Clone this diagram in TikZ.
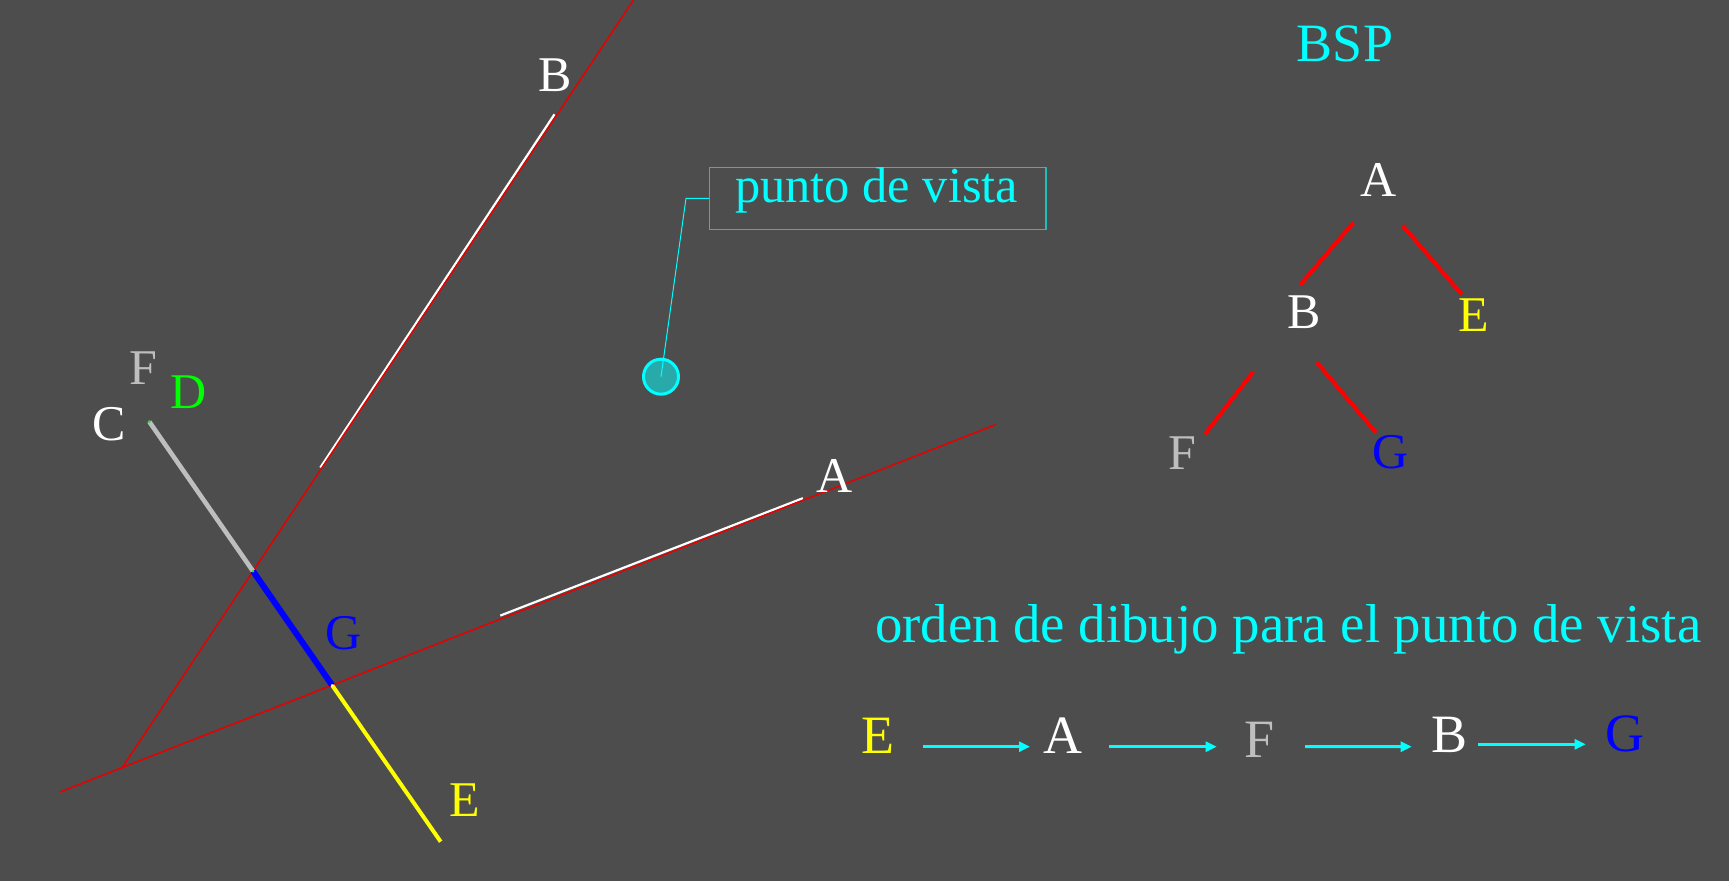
\documentclass[tikz,border=0pt]{standalone}
\usepackage{fontspec}
\setmainfont{Liberation Serif}
\usetikzlibrary{arrows.meta}
\definecolor{bg}{RGB}{77,77,77}
\definecolor{planered}{RGB}{230,0,0}
\definecolor{pured}{RGB}{255,0,0}
\definecolor{lgray}{RGB}{190,190,190}
\definecolor{vpfill}{RGB}{40,170,170}
\definecolor{boxteal}{RGB}{30,190,190}
\definecolor{aqua}{RGB}{0,255,255}
\definecolor{yell}{RGB}{255,255,0}
\definecolor{lime}{RGB}{0,255,0}
\definecolor{pureblue}{RGB}{0,0,255}
\begin{document}
\begin{tikzpicture}[x=0.5pt,y=-0.5pt,
  lbl/.style={inner sep=0pt, anchor=base, font=\fontsize{25}{30}\selectfont},
  biglbl/.style={inner sep=0pt, anchor=base, font=\fontsize{27}{32}\selectfont},
  plane/.style={draw=planered, line width=0.75pt},
  wseg/.style={draw=white, line width=1.1pt},
  treeedge/.style={draw=pured, line width=2pt},
  seqarrow/.style={draw=aqua, line width=1.5pt, -{Triangle[length=5.5pt,width=5pt]}},
  leader/.style={draw=aqua, line width=0.5pt}]
\fill[bg] (0,0) rectangle (1729,881);
\useasboundingbox (0,0) rectangle (1729,881);

% plane lines
\coordinate (B1) at (121.7,768.3);
\coordinate (B2) at (633.5,0);
\coordinate (A1) at (60,792);
\coordinate (A2) at (996,424.5);
% white wall segments (slightly offset)
\draw[wseg] (500.3,615.6) -- (802.9,498.2);
\draw[wseg] (554.5,114.3) -- (320.3,467.6);
\draw[plane] (B1) -- (B2);
\draw[plane] (A1) -- (A2);

% C--E segment split by the planes
\coordinate (C) at (149.3,421.7);
\coordinate (E) at (440.7,841.7);
\coordinate (J1) at (intersection of C--E and B1--B2);
\coordinate (J2) at (intersection of C--E and A1--A2);
\draw[draw=yell, line width=2pt] (J2) -- (E);
\draw[draw=lgray, line width=2.3pt] (C) -- (J1);
\draw[draw=pureblue, line width=3pt] (J1) -- (J2);
\fill[lime] (C) circle (1.6);
\fill[lime] (J1) circle (1.4);
\fill[white] (J2) circle (1.2);

% scene labels
\node[lbl,white] (lB) at (555,91.7) {B};
\node[lbl,white] (lA) at (835,492.7) {A};
\node[lbl,white] (lC) at (109.5,441) {C};
\node[lbl,lgray] (lF) at (143,385) {F};
\node[lbl,lime] (lD) at (188.3,408.3) {D};
\node[lbl,pureblue] (lG) at (344,649.5) {G};
\node[lbl,yell] (lE) at (464.5,816) {E};

% viewpoint
\node[circle, draw=aqua, fill=vpfill, line width=1.5pt, minimum size=17.5pt, inner sep=0pt] (vp) at (661,376.7) {};
\node[draw=boxteal, line width=0.6pt, minimum width=168.35pt, minimum height=31pt, inner sep=0pt] (pvbox) at (877.7,198.3) {};
\node[inner sep=0pt, anchor=base, text=aqua, font=\fontsize{25.2}{30}\selectfont] (pvtext) at (876.7,202.7) {punto de vista};
\coordinate (bend) at (686,198.3);
\draw[leader] (vp.center) -- (bend) -- (pvbox.west);

% BSP tree
\node[biglbl,aqua] (bsp) at (1345,62) {BSP};
\node[lbl,white] (tA) at (1379,196.7) {A};
\node[lbl,white] (tB) at (1304.5,329) {B};
\node[lbl,yell] (tE) at (1473.7,332) {E};
\node[lbl,lgray] (tF) at (1182,470) {F};
\node[lbl,pureblue] (tG) at (1390.7,469) {G};
\draw[treeedge] ([shift={(-25.7,26)}]tA.base) -- ([shift={(-4.5,-44)}]tB.base);
\draw[treeedge] ([shift={(23.7,29)}]tA.base) -- ([shift={(-12,-37.7)}]tE.base);
\draw[treeedge] ([shift={(-51.2,42.7)}]tB.base) -- ([shift={(23,-36)}]tF.base);
\draw[treeedge] ([shift={(12.2,33.3)}]tB.base) -- ([shift={(-14.7,-36.3)}]tG.base);

% drawing order
\node[inner sep=0pt, anchor=base west, text=aqua, font=\fontsize{27.4}{32}\selectfont] (orden) at (874.6,642.3) {orden de dibujo para el punto de vista};
\node[biglbl,yell] (sE) at (877.5,753) {E};
\node[biglbl,white] (sA) at (1063,753) {A};
\node[biglbl,lgray] (sF) at (1260,757) {F};
\node[biglbl,white] (sB) at (1449,752.7) {B};
\node[biglbl,pureblue] (sG) at (1625,751.2) {G};
\draw[seqarrow] ([shift={(45.8,-6.3)}]sE.base) -- ([shift={(-33,-6.3)}]sA.base);
\draw[seqarrow] ([shift={(46.3,-6.3)}]sA.base) -- ([shift={(-43.3,-10.3)}]sF.base);
\draw[seqarrow] ([shift={(45,-10.3)}]sF.base) -- ([shift={(-37.3,-6)}]sB.base);
\draw[seqarrow] ([shift={(29.3,-8.4)}]sB.base) -- ([shift={(-39.3,-6.9)}]sG.base);
\end{tikzpicture}
\end{document}
